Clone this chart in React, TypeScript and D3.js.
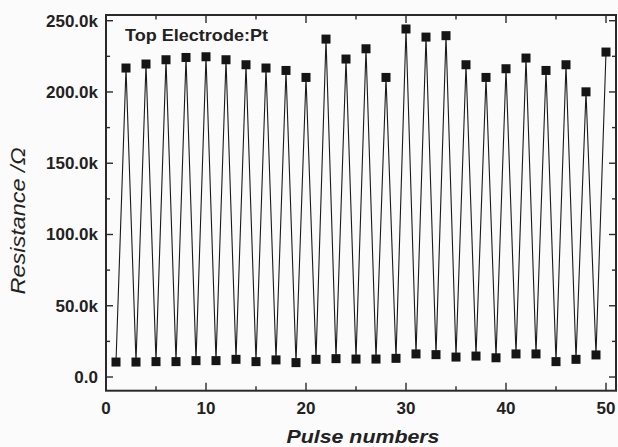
import React, { useEffect, useRef } from "react";
import * as d3 from "d3";

// pulse number 1..50, odd = low state, even = high state (ohms)
const pulses = d3.range(1, 51);
const resistanceK = [
  10.5, 216.8, 10.5, 219.6, 10.8, 222.6, 10.8, 224.2, 11.5, 224.7,
  11.5, 222.6, 12.4, 219.1, 10.8, 216.8, 12.0, 215.1, 10.1, 210.2,
  12.4, 237.1, 12.9, 223.1, 12.6, 230.3, 12.6, 210.2, 13.1, 244.2,
  16.2, 238.5, 15.7, 239.5, 14.0, 219.1, 14.7, 210.2, 13.5, 216.3,
  16.2, 223.8, 16.2, 215.1, 10.8, 219.1, 12.4, 200.1, 15.5, 228.0,
];
const yTickValues = [0, 50000, 100000, 150000, 200000, 250000];
const xTickValues = [0, 10, 20, 30, 40, 50];

const W = 618;
const H = 447;

const Chart = () => {
  const svgRef = useRef<SVGSVGElement>(null);

  useEffect(() => {
    const svg = d3.select(svgRef.current);
    svg.selectAll("*").remove();

    const left = 106, right = 616, top = 15, bottom = 390.7;
    const x = d3.scaleLinear().domain([0, 51]).range([left, right]);
    const y = d3.scaleLinear().domain([-9600, 254000]).range([bottom, top]);

    const data = pulses.map((p, i) => ({ p, v: resistanceK[i] * 1000 }));

    svg.append("rect").attr("width", W).attr("height", H).attr("fill", "#fbfbfb");

    // line
    const line = d3.line<{ p: number; v: number }>().x(d => x(d.p)).y(d => y(d.v));
    svg.append("path")
      .datum(data)
      .attr("d", line)
      .attr("fill", "none")
      .attr("stroke", "#1a1a1a")
      .attr("stroke-width", 1.1);

    // markers
    const s = 9;
    svg.selectAll(".pt")
      .data(data)
      .enter().append("rect")
      .attr("class", "pt")
      .attr("x", d => x(d.p) - s / 2)
      .attr("y", d => y(d.v) - s / 2)
      .attr("width", s)
      .attr("height", s)
      .attr("fill", "#151515");

    const frame = "#2a2a2a";
    const font = "'Liberation Sans', Arial, sans-serif";

    // ticks, inward on all four sides
    const ticks = svg.append("g").attr("stroke", frame).attr("stroke-width", 1.4);
    d3.range(0, 51, 5).forEach(v => {
      const len = v % 10 === 0 ? 8 : 4.5;
      ticks.append("line").attr("x1", x(v)).attr("x2", x(v)).attr("y1", bottom).attr("y2", bottom - len);
      ticks.append("line").attr("x1", x(v)).attr("x2", x(v)).attr("y1", top).attr("y2", top + len);
    });
    d3.range(0, 250001, 25000).forEach(v => {
      const len = v % 50000 === 0 ? 7 : 4;
      ticks.append("line").attr("x1", left).attr("x2", left + len).attr("y1", y(v)).attr("y2", y(v));
      ticks.append("line").attr("x1", right).attr("x2", right - len).attr("y1", y(v)).attr("y2", y(v));
    });

    svg.append("rect")
      .attr("x", left).attr("y", top)
      .attr("width", right - left).attr("height", bottom - top)
      .attr("fill", "none").attr("stroke", frame).attr("stroke-width", 2);

    // tick labels
    svg.selectAll(".yl")
      .data(yTickValues)
      .enter().append("text")
      .attr("x", left - 8)
      .attr("y", d => y(d) + 6)
      .attr("text-anchor", "end")
      .attr("font-family", font)
      .attr("font-weight", "bold")
      .attr("font-size", 17)
      .attr("fill", "#222")
      .text(d => (d === 0 ? "0.0" : d3.format(".1f")(d / 1000) + "k"));

    svg.selectAll(".xl")
      .data(xTickValues)
      .enter().append("text")
      .attr("x", d => x(d))
      .attr("y", bottom + 23)
      .attr("text-anchor", "middle")
      .attr("font-family", font)
      .attr("font-weight", "bold")
      .attr("font-size", 17)
      .attr("fill", "#222")
      .text(d => String(d));

    // axis titles
    svg.append("text")
      .attr("x", 363)
      .attr("y", 443)
      .attr("text-anchor", "middle")
      .attr("font-family", font)
      .attr("font-weight", "bold")
      .attr("font-style", "italic")
      .attr("font-size", 19)
      .attr("textLength", 153)
      .attr("lengthAdjust", "spacingAndGlyphs")
      .attr("fill", "#222")
      .text("Pulse numbers");

    svg.append("text")
      .attr("transform", "translate(25,221) rotate(-90)")
      .attr("text-anchor", "middle")
      .attr("font-family", font)
      .attr("font-style", "italic")
      .attr("font-size", 20)
      .attr("textLength", 147)
      .attr("lengthAdjust", "spacingAndGlyphs")
      .attr("fill", "#222")
      .text("Resistance /Ω");

    svg.append("text")
      .attr("x", 125)
      .attr("y", 41)
      .attr("font-family", font)
      .attr("font-weight", "bold")
      .attr("font-size", 17)
      .attr("textLength", 143)
      .attr("lengthAdjust", "spacingAndGlyphs")
      .attr("fill", "#222")
      .text("Top Electrode:Pt");
  }, []);

  return <svg ref={svgRef} width={W} height={H} style={{ display: "block" }} />;
};

const App = () => (
  <div style={{ position: "absolute", left: 0, top: 0 }}>
    <Chart />
  </div>
);

export default App;
